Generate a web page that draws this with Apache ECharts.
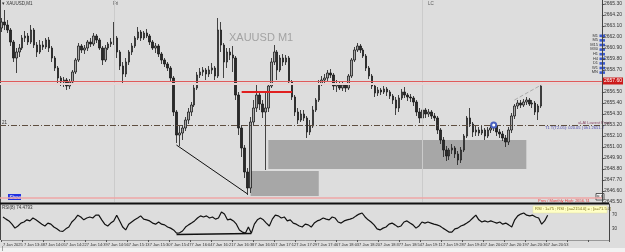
<!DOCTYPE html>
<html><head><meta charset="utf-8">
<script src="https://cdn.jsdelivr.net/npm/echarts@6/dist/echarts.min.js"></script>
<style>html,body{margin:0;padding:0;background:#dddddd;}#c{width:625px;height:252px;}</style>
</head><body><div id="c"></div>
<script>
// [open, close, low, high]
const candles = [
[2662.9,2663.5,2662.5,2663.9],[2663.5,2663.2,2662.7,2664.7],[2663.2,2662.7,2662.4,2663.7],[2662.7,2661.5,2661.1,2662.9],
[2661.5,2659.9,2659.5,2661.7],[2659.9,2660.5,2658.4,2660.9],[2660.5,2660.9,2660.0,2661.3],[2660.9,2661.9,2660.7,2662.2],
[2661.9,2662.1,2661.5,2662.6],[2662.1,2661.5,2661.2,2662.4],[2661.5,2662.7,2661.3,2663.2],[2662.7,2661.2,2660.9,2662.9],
[2661.2,2660.5,2660.0,2661.5],[2660.5,2661.2,2660.3,2661.7],[2661.2,2661.0,2660.7,2661.6],[2661.0,2661.7,2660.8,2661.9],
[2661.7,2660.9,2660.5,2662.0],[2660.9,2659.9,2659.5,2661.1],[2659.9,2658.9,2658.6,2660.1],[2658.9,2657.9,2657.4,2659.1],
[2657.9,2657.5,2657.1,2658.1],[2657.5,2657.7,2657.0,2658.0],[2657.7,2657.1,2656.7,2657.9],[2657.1,2657.5,2656.8,2657.8],
[2657.5,2658.5,2657.3,2658.7],[2658.5,2659.7,2658.3,2659.9],[2659.7,2661.1,2659.5,2661.4],[2661.1,2660.7,2660.4,2661.3],
[2660.7,2660.9,2660.3,2661.2],[2660.9,2661.5,2660.6,2661.7],[2661.5,2661.3,2661.0,2661.9],[2661.3,2662.1,2661.1,2662.4],
[2662.1,2661.7,2661.4,2662.3],[2661.7,2660.9,2660.7,2661.9],[2660.9,2659.7,2659.2,2661.1],[2659.7,2660.9,2659.5,2661.2],
[2660.9,2661.3,2660.7,2661.5],[2661.3,2661.5,2661.0,2661.9],[2661.5,2661.9,2661.2,2663.5],[2661.9,2660.5,2659.9,2662.1],
[2660.5,2659.1,2658.7,2660.7],[2659.1,2658.3,2657.4,2659.5],[2658.3,2659.5,2658.0,2659.9],[2659.5,2660.5,2659.2,2660.7],
[2660.5,2661.1,2660.2,2661.4],[2661.1,2661.9,2660.9,2662.1],[2661.9,2662.5,2661.7,2663.0],[2662.5,2661.9,2661.6,2662.7],
[2661.9,2662.4,2661.7,2662.6],[2662.4,2662.1,2661.9,2662.8],[2662.1,2661.5,2661.2,2662.3],[2661.5,2660.9,2660.7,2661.7],
[2660.9,2661.1,2660.4,2661.4],[2661.1,2660.3,2660.0,2661.3],[2660.3,2659.7,2659.3,2660.5],[2659.7,2659.3,2659.0,2659.9],
[2659.3,2658.9,2658.6,2659.5],[2658.9,2657.9,2657.5,2659.1],[2657.9,2654.5,2654.1,2658.1],[2654.5,2652.2,2651.4,2654.7],
[2652.2,2652.4,2651.1,2653.1],[2652.4,2652.9,2651.7,2653.2],[2652.9,2653.7,2652.6,2654.0],[2653.7,2654.5,2653.3,2654.9],
[2654.5,2655.2,2654.1,2655.5],[2655.2,2656.9,2655.0,2657.2],[2656.9,2658.2,2656.7,2658.5],[2658.2,2658.5,2657.9,2658.9],
[2658.5,2658.7,2658.1,2659.0],[2658.7,2658.3,2657.7,2658.9],[2658.3,2658.7,2658.0,2659.1],[2658.7,2658.9,2658.3,2659.4],
[2658.9,2658.1,2657.7,2659.1],[2658.1,2662.7,2657.9,2663.9],[2662.7,2661.2,2660.5,2663.5],[2661.2,2659.5,2657.9,2661.4],
[2659.5,2660.5,2658.9,2660.9],[2660.5,2660.2,2659.7,2660.9],[2660.2,2659.9,2658.5,2661.1],[2659.9,2656.2,2655.7,2660.1],
[2656.2,2652.9,2652.2,2656.5],[2652.9,2650.9,2650.0,2653.2],[2650.9,2648.5,2647.9,2651.2],[2648.5,2646.9,2646.2,2648.9],
[2646.9,2653.5,2646.4,2654.0],[2653.5,2654.9,2653.2,2655.7],[2654.9,2656.2,2654.5,2657.4],[2656.2,2655.3,2654.7,2656.5],
[2655.3,2654.5,2653.9,2655.7],[2654.5,2654.9,2648.7,2656.4],[2654.9,2657.1,2654.5,2657.4],[2657.1,2659.5,2656.9,2659.9],
[2659.5,2660.5,2659.2,2661.2],[2660.5,2658.7,2657.7,2660.7],[2658.7,2659.9,2658.5,2660.2],[2659.9,2659.5,2659.1,2660.3],
[2659.5,2659.9,2659.2,2660.2],[2659.9,2657.5,2657.2,2660.1],[2657.5,2656.0,2655.7,2657.7],[2656.0,2654.5,2654.1,2656.2],
[2654.5,2653.7,2653.3,2654.9],[2653.7,2654.3,2653.5,2654.7],[2654.3,2653.9,2653.6,2654.7],[2653.9,2652.5,2651.9,2654.1],
[2652.5,2653.1,2652.2,2653.7],[2653.1,2654.7,2652.9,2655.1],[2654.7,2655.7,2654.5,2655.9],[2655.7,2657.3,2655.5,2657.7],
[2657.3,2657.7,2657.1,2658.1],[2657.7,2657.9,2657.3,2658.3],[2657.9,2658.4,2657.6,2658.7],[2658.4,2658.2,2657.9,2658.8],
[2658.2,2657.1,2656.7,2658.4],[2657.1,2657.3,2656.5,2657.7],[2657.3,2656.9,2656.7,2657.5],[2656.9,2657.2,2656.6,2657.5],
[2657.2,2656.9,2656.5,2657.4],[2656.9,2658.1,2656.7,2658.3],[2658.1,2659.7,2657.9,2659.9],[2659.7,2660.7,2659.5,2661.0],
[2660.7,2661.1,2660.5,2661.4],[2661.1,2660.7,2660.4,2661.3],[2660.7,2660.1,2659.9,2660.9],[2660.1,2658.9,2658.6,2660.3],
[2658.9,2658.1,2657.8,2659.1],[2658.1,2657.1,2656.8,2658.3],[2657.1,2656.4,2656.0,2657.3],[2656.4,2656.7,2656.1,2657.0],
[2656.7,2656.5,2656.2,2656.9],[2656.5,2656.8,2656.3,2657.1],[2656.8,2656.5,2656.1,2657.0],[2656.5,2656.1,2655.8,2656.7],
[2656.1,2655.7,2655.3,2656.3],[2655.7,2654.9,2654.2,2656.0],[2654.9,2655.9,2654.5,2656.2],[2655.9,2656.5,2655.7,2656.8],
[2656.5,2656.2,2655.9,2657.0],[2656.2,2656.0,2655.6,2656.4],[2656.0,2655.9,2655.5,2656.3],[2655.9,2655.5,2655.1,2656.1],
[2655.5,2654.5,2654.1,2655.7],[2654.5,2653.9,2653.4,2654.9],[2653.9,2654.7,2653.7,2655.1],[2654.7,2654.3,2653.9,2654.9],
[2654.3,2654.5,2654.0,2654.8],[2654.5,2654.1,2653.8,2654.7],[2654.1,2653.9,2653.6,2654.4],[2653.9,2652.7,2652.3,2654.1],
[2652.7,2651.7,2651.3,2652.9],[2651.7,2650.7,2650.0,2652.0],[2650.7,2650.1,2649.6,2651.1],[2650.1,2650.7,2649.7,2650.9],
[2650.7,2650.9,2650.3,2651.3],[2650.9,2650.3,2649.9,2651.1],[2650.3,2649.7,2649.2,2650.6],[2649.7,2650.7,2649.4,2651.0],
[2650.7,2652.1,2650.5,2652.3],[2652.1,2653.9,2651.9,2654.1],[2653.9,2653.3,2653.0,2654.9],[2653.3,2652.5,2652.0,2653.5],
[2652.5,2652.7,2652.1,2653.1],[2652.7,2652.4,2652.1,2653.0],[2652.4,2652.7,2652.2,2653.1],[2652.7,2652.1,2651.7,2652.9],
[2652.1,2652.7,2651.9,2653.0],[2652.7,2652.9,2652.4,2653.2],[2652.9,2653.1,2652.6,2653.4],[2653.1,2652.5,2652.1,2653.3],
[2652.5,2652.3,2651.9,2652.8],[2652.3,2651.9,2651.6,2652.6],[2651.9,2651.5,2651.0,2652.2],[2651.5,2652.7,2651.2,2653.0],
[2652.7,2654.1,2652.4,2654.4],[2654.1,2655.1,2653.8,2655.3],[2655.1,2655.4,2654.8,2655.7],[2655.4,2655.2,2654.9,2655.7],
[2655.2,2655.5,2655.0,2655.8],[2655.5,2655.7,2655.2,2656.0],[2655.7,2655.3,2655.1,2655.9],[2655.3,2655.4,2654.9,2655.7],
[2655.4,2654.5,2654.2,2655.6],[2654.5,2655.1,2653.7,2655.3],[2655.1,2657.1,2654.9,2657.3]
];
const rsi = [
64,58,53,44,33,39,47,50,56,53,61,56,50,44,39,47,44,36,31,25,
24,31,36,50,58,69,64,56,61,64,61,69,69,56,44,39,47,53,69,53,
36,28,44,50,56,61,67,58,56,53,47,44,50,44,42,36,33,28,19,20,
25,36,42,47,53,61,67,64,67,61,64,58,61,78,72,56,58,53,44,28,
22,19,36,19,44,56,61,56,47,39,58,69,67,61,64,53,56,47,44,39,
36,44,42,36,47,53,56,61,58,56,64,61,50,47,53,56,58,61,67,72,
75,64,56,50,42,31,28,33,36,44,47,42,36,39,50,53,47,42,33,39,
50,47,50,47,44,42,39,33,28,22,22,31,33,39,42,47,53,61,69,56,
50,53,50,53,50,47,50,44,47,42,36,56,67,72,75,69,67,69,64,61,
44,53,69
];
const tickLabels = ["7 Jan 2025","7 Jan 13:48","7 Jan 14:05","7 Jan 14:22","7 Jan 14:39","7 Jan 14:56","7 Jan 15:13",
"7 Jan 15:30","7 Jan 15:47","7 Jan 16:04","7 Jan 16:21","7 Jan 16:38","7 Jan 16:55","7 Jan 17:12","7 Jan 17:29",
"7 Jan 17:46","7 Jan 18:03","7 Jan 18:20","7 Jan 18:37","7 Jan 18:54","7 Jan 19:11","7 Jan 19:28","7 Jan 19:45",
"7 Jan 20:02","7 Jan 20:19","7 Jan 20:36","7 Jan 20:53"];
const rsiLevels = [70, 30];
const bidPrice = 2657.6;
const askBand = 2657.35;
const dashLevel = 2653.2;
const monthlyHigh = 2645.9;
const redSegment = [[81, 2656.5], [98, 2656.5]];
const trendLine = [[59, 2651.2], [83, 2646.3]];
const tailLine = [[173, 2655.7], [182, 2657.2]];
const zoneA = [[90, 2651.7], [177, 2648.8]];
const zoneB = [[84, 2648.6], [107, 2646.1]];
const separators = [38, 142];
const lowPoint = [166, 2653.2];
const rsiTrend = [[58, 15], [83, 18]];
const timeframes = ["M1","M5","M15","M30","H1","H4","D1","W1","MN"];

const nCats = 203;
const cats = Array.from({length: nCats}, (_, i) => String(i));
const ch = echarts.init(document.getElementById('c'), null, {renderer: 'canvas'});
const F = 'Liberation Sans, Arial, sans-serif';
const tfGraphics = [];
timeframes.forEach((t, k) => {
  tfGraphics.push({type:'text', x: 598, y: 33.5 + k*4.6, style:{text:t, fill:'#333', font:'4px ' + F, align:'right'}});
  tfGraphics.push({type:'rect', shape:{x:599.5, y:34.5 + k*4.6, width:5.5, height:2.6}, style:{fill:'#3a5ad0'}});
});

ch.setOption({
  animation: false,
  backgroundColor: '#dddddd',
  grid: [
    {left: 0, right: 16, top: 0, height: 202},
    {left: 0, right: 16, top: 204, height: 36}
  ],
  xAxis: [
    {type:'category', gridIndex:0, data: cats, axisLine:{show:false}, axisTick:{show:false}, axisLabel:{show:false}},
    {type:'category', gridIndex:1, data: cats, axisLine:{show:true, lineStyle:{color:'#999'}},
     axisTick:{show:true, interval:6, length:2, lineStyle:{color:'#555'}},
     axisLabel:{interval:6, fontSize:4, color:'#333', margin:2.5, align:'left', fontFamily:F,
       showMinLabel:true, hideOverlap:false,
       formatter:(v, idx) => (idx % 7 === 0 ? (tickLabels[idx/7] || '') : '')}}
  ],
  yAxis: [
    {type:'value', gridIndex:0, position:'right', min:2645.5, max:2665.7, interval:1.1, scale:true,
     axisLine:{show:true, lineStyle:{color:'#444'}}, axisTick:{show:true, length:2, lineStyle:{color:'#444'}},
     splitLine:{show:false},
     axisLabel:{fontSize:5, color:'#333', margin:2, fontFamily:F, showMaxLabel:false, formatter:v => v.toFixed(2)}},
    {type:'value', gridIndex:1, position:'right', min:0, max:100, interval:10,
     axisLine:{show:true, lineStyle:{color:'#444'}}, axisTick:{show:false}, splitLine:{show:false},
     axisLabel:{fontSize:4.5, color:'#333', margin:3, fontFamily:F,
       formatter:v => (rsiLevels.indexOf(v) >= 0 ? String(v) : '')}}
  ],
  series: [
    {type:'line', xAxisIndex:0, yAxisIndex:0, data:[], z:1, silent:true,
     markArea:{silent:true, itemStyle:{color:'#a7a7a7'},
       data:[[{coord:zoneA[0]},{coord:zoneA[1]}],[{coord:zoneB[0]},{coord:zoneB[1]}]]},
     markLine:{silent:true, symbol:'none', label:{show:false}, lineStyle:{color:'#cbcbcb', width:1, type:'solid'},
       data: separators.map(s => ({xAxis: s}))}},
    {type:'candlestick', xAxisIndex:0, yAxisIndex:0, data:candles, z:3, barWidth:2,
     itemStyle:{color:'#a8a8a8', color0:'#2a2a2a', borderColor:'#1a1a1a', borderColor0:'#1a1a1a', borderWidth:0.8},
     markLine:{silent:true, symbol:'none', animation:false,
       data:[
         {yAxis: askBand, lineStyle:{color:'#ead3d3', width:2, type:'solid'}, label:{show:false}},
         {yAxis: bidPrice, lineStyle:{color:'#e05a5a', width:1, type:'solid'},
          label:{show:true, position:'end', formatter: bidPrice.toFixed(2), backgroundColor:'#cc1a1a', color:'#fff',
                 fontSize:5, padding:[1,1,1,1], distance:1, fontFamily:F}},
         {yAxis: dashLevel, lineStyle:{color:'#5e4e40', width:1, type:[6,2,1,2]}, label:{show:false}},
         {yAxis: monthlyHigh, lineStyle:{color:'#eea6a6', width:1.5, type:'solid'}, label:{show:false}},
         [{coord:redSegment[0], lineStyle:{color:'#e02020', width:2, type:'solid'}, label:{show:false}}, {coord:redSegment[1]}],
         [{coord:trendLine[0], lineStyle:{color:'#111', width:1, type:'solid'}, label:{show:false}}, {coord:trendLine[1]}],
         [{coord:tailLine[0], lineStyle:{color:'#aaa', width:1, type:'dashed'}, label:{show:false}}, {coord:tailLine[1]}]
       ]},
     markPoint:{silent:true, symbol:'emptyCircle', symbolSize:5, label:{show:false},
       itemStyle:{color:'#4a62c0', borderColor:'#4a62c0', borderWidth:1},
       data:[{coord: lowPoint}]}},
    {type:'line', xAxisIndex:1, yAxisIndex:1, data:rsi, symbol:'none', z:3,
     lineStyle:{color:'#111', width:1.2},
     markLine:{silent:true, symbol:'none', label:{show:false},
       data:[[{coord:rsiTrend[0], lineStyle:{color:'#111', width:1.5, type:'solid'}}, {coord:rsiTrend[1]}]]}}
  ],
  graphic: [
    {type:'line', shape:{x1:0.5, y1:0, x2:0.5, y2:240}, style:{stroke:'#444', lineWidth:1}},
    {type:'line', shape:{x1:0, y1:203.5, x2:609, y2:203.5}, style:{stroke:'#111', lineWidth:2}},
    {type:'rect', shape:{x:0, y:248, width:625, height:4}, style:{fill:'#f2f2f2'}},
    {type:'text', x:2, y:246.5, style:{text:'|', fill:'#333', font:'5px ' + F}},
    {type:'text', x:2, y:1, style:{text:'\u25BE XAUUSD,M1', fill:'#333', font:'4.5px ' + F}},
    {type:'text', x:113, y:1, style:{text:'Fri', fill:'#555', font:'4.5px ' + F}},
    {type:'text', x:428, y:1, style:{text:'LC', fill:'#555', font:'4.5px ' + F}},
    {type:'text', x:229, y:32, style:{text:'XAUUSD M1', fill:'#a3a3a3', font:'11px ' + F}},
    {type:'text', x:2, y:120, style:{text:'21', fill:'#333', font:'4.5px ' + F}},
    {type:'text', x:578, y:120.5, style:{text:'ul-AI Lowest Point', fill:'#8a4a6a', font:'4px ' + F}},
    {type:'text', x:545, y:125.5, style:{text:'T1 T(T2.05): 020.05 | 0h1 2651.2', fill:'#4a4ab0', font:'4px ' + F}},
    {type:'rect', shape:{x:8, y:194, width:13, height:6}, style:{fill:'#2030e0'}},
    {type:'text', x:9.5, y:195, style:{text:'Show', fill:'#fff', font:'4.5px ' + F}},
    {type:'text', x:538, y:198.5, style:{text:'Prev / Monthly High: 2656.74', fill:'#e04040', font:'4px ' + F}},
    {type:'rect', shape:{x:596, y:193.5, width:8, height:6.5}, style:{fill:'#f4f4f4', stroke:'#333', lineWidth:0.8}},
    {type:'text', x:597, y:194.5, style:{text:'B.S', fill:'#333', font:'4px ' + F}},
    {type:'text', x:2, y:205.5, style:{text:'RSI(8) 74.4793', fill:'#333', font:'4.5px ' + F}},
    {type:'rect', shape:{x:533, y:206, width:74, height:7}, style:{fill:'#ffffc6', stroke:'#e0e0a0', lineWidth:0.5}},
    {type:'text', x:535, y:207.3, style:{text:'RSI : 1=75 ; RSI ; [a=2154.0] = ; [a=71.5.0]', fill:'#7a6a10', font:'4px ' + F}}
  ].concat(tfGraphics)
});
</script></body></html>
